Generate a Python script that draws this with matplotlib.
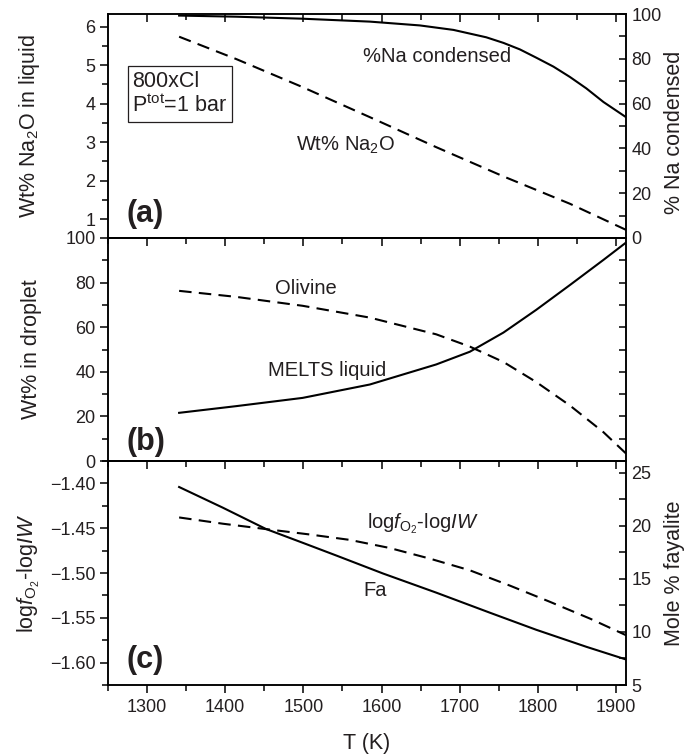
import matplotlib
matplotlib.use("Agg")
import matplotlib.pyplot as plt
from matplotlib.ticker import MultipleLocator, FuncFormatter

plt.rcParams["font.family"] = ["Liberation Sans", "DejaVu Sans"]
plt.rcParams["mathtext.fontset"] = "custom"
plt.rcParams["mathtext.rm"] = "Liberation Sans"
plt.rcParams["mathtext.it"] = "Liberation Sans:italic"
plt.rcParams["mathtext.bf"] = "Liberation Sans:bold"

TXT = "#231f20"

# (a) sodium
t_na = [1341, 1414, 1499, 1585, 1649, 1692, 1734, 1756, 1777, 1798, 1820, 1841,
        1862, 1884, 1913]
na_condensed = [99.3, 98.8, 97.9, 96.6, 94.9, 92.9, 89.6, 87.1, 84.2, 80.5, 76.5,
                71.9, 66.8, 60.7, 53.9]
t_na2o = [1341, 1414, 1499, 1585, 1670, 1756, 1841, 1913]
wt_na2o = [5.74, 5.16, 4.43, 3.65, 2.87, 2.11, 1.40, 0.72]

# (b) droplet composition
t_drop = [1341, 1414, 1499, 1585, 1670, 1713, 1756, 1798, 1841, 1884, 1913]
olivine = [76.3, 73.6, 69.6, 64.3, 56.8, 51.3, 44.4, 35.4, 24.9, 12.9, 3.3]
melts_liq = [21.6, 24.6, 28.3, 34.3, 43.3, 49.0, 57.6, 67.8, 78.9, 90.2, 98.0]

# (c) fO2 and fayalite
t_fa = [1341, 1397, 1452, 1499, 1542, 1602, 1670, 1739, 1798, 1862, 1913]
fayalite = [23.65, 21.7, 19.7, 18.4, 17.2, 15.5, 13.7, 11.8, 10.2, 8.6, 7.4]
t_fo2 = [1341, 1397, 1452, 1508, 1559, 1610, 1662, 1713, 1764, 1815, 1867, 1913]
dlog_fo2 = [-1.438, -1.445, -1.451, -1.457, -1.463, -1.472, -1.484, -1.497,
            -1.514, -1.532, -1.551, -1.5695]

XMIN, XMAX = 1250, 1912.8
LW = 1.5
DASH = (0, (6, 3.5))
TICK_FS = 13
ANN_FS = 14.5
LAB_FS = 15.5

fig = plt.figure(figsize=(6.86, 7.56), dpi=100)
left, width = 108 / 686, 518 / 686
ax_a = fig.add_axes([left, 1 - 238 / 756, width, 224 / 756])
ax_b = fig.add_axes([left, 1 - 461 / 756, width, 223 / 756])
ax_c = fig.add_axes([left, 1 - 685 / 756, width, 224 / 756])


def style_left(ax, major, minor):
    ax.set_xlim(XMIN, XMAX)
    ax.xaxis.set_major_locator(MultipleLocator(100))
    ax.xaxis.set_minor_locator(MultipleLocator(50))
    ax.yaxis.set_major_locator(MultipleLocator(major))
    ax.yaxis.set_minor_locator(MultipleLocator(minor))
    ax.tick_params(axis="x", which="both", top=True, bottom=False, direction="in",
                   labelbottom=False)
    ax.tick_params(axis="y", which="both", left=True, right=False, direction="out",
                   labelsize=TICK_FS, labelcolor=TXT, pad=3)
    ax.tick_params(which="major", length=6, width=1.1)
    ax.tick_params(which="minor", length=4, width=1.1)
    for sp in ax.spines.values():
        sp.set_linewidth(1.1)


def style_right(ax, step, minor=None, labels=True):
    ax.yaxis.set_major_locator(MultipleLocator(step))
    if minor:
        ax.yaxis.set_minor_locator(MultipleLocator(minor))
    ax.tick_params(axis="y", which="both", right=True, direction="in", length=5,
                   width=1.1, labelright=labels, labelsize=TICK_FS, labelcolor=TXT, pad=4)
    for sp in ax.spines.values():
        sp.set_linewidth(1.1)


# panel (a)
style_left(ax_a, 1, 0.5)
ax_a.set_ylim(0.51, 6.33)
ax_a.plot(t_na2o, wt_na2o, color="black", lw=LW, linestyle=DASH)
ax_a.set_ylabel("Wt% Na$_2$O in liquid", fontsize=LAB_FS, color=TXT)
ax_a2 = ax_a.twinx()
ax_a2.set_ylim(0, 100)
style_right(ax_a2, 20, 10)
ax_a2.plot(t_na, na_condensed, color="black", lw=LW)
ax_a2.set_ylabel("% Na condensed", fontsize=LAB_FS, color=TXT)
ax_a2.yaxis.set_label_coords(1.073, 0.47)
ax_a.text(0.635, 0.8125, "%Na condensed", transform=ax_a.transAxes, ha="center",
          va="center", fontsize=ANN_FS, color=TXT)
ax_a.text(0.459, 0.415, "Wt% Na$_2$O", transform=ax_a.transAxes, ha="center",
          va="center", fontsize=ANN_FS, color=TXT)
ax_a.text(0.047, 0.643, "800xCl\nP$^{\\mathrm{tot}}$=1 bar", transform=ax_a.transAxes,
          ha="left", va="center", fontsize=LAB_FS, color=TXT, linespacing=1.1,
          bbox=dict(boxstyle="square,pad=0.22", facecolor="white", edgecolor=TXT, lw=0.9))
ax_a.text(0.035, 0.105, "(a)", transform=ax_a.transAxes, ha="left", va="center",
          fontsize=22, fontweight="bold", color=TXT)

# panel (b)
style_left(ax_b, 20, 10)
ax_b.set_ylim(0, 100)
ax_b.plot(t_drop, olivine, color="black", lw=LW, linestyle=DASH)
ax_b.plot(t_drop, melts_liq, color="black", lw=LW)
ax_b.set_ylabel("Wt% in droplet", fontsize=LAB_FS, color=TXT)
ax_b2 = ax_b.twinx()
ax_b2.set_ylim(0, 100)
style_right(ax_b2, 10, labels=False)
ax_b.text(0.382, 0.774, "Olivine", transform=ax_b.transAxes, ha="center",
          va="center", fontsize=ANN_FS, color=TXT)
ax_b.text(0.423, 0.404, "MELTS liquid", transform=ax_b.transAxes, ha="center",
          va="center", fontsize=ANN_FS, color=TXT)
ax_b.text(0.035, 0.085, "(b)", transform=ax_b.transAxes, ha="left", va="center",
          fontsize=22, fontweight="bold", color=TXT)

# panel (c)
style_left(ax_c, 0.05, 0.025)
ax_c.set_ylim(-1.625, -1.375)
ax_c.yaxis.set_major_formatter(FuncFormatter(lambda v, p: f"{v:.2f}".replace("-", "\u2212")))
ax_c.tick_params(axis="x", which="both", top=False, bottom=True, direction="out",
                 labelbottom=True, labelsize=TICK_FS, labelcolor=TXT, pad=4)
top = ax_c.secondary_xaxis("top")
top.xaxis.set_major_locator(MultipleLocator(100))
top.xaxis.set_minor_locator(MultipleLocator(50))
top.tick_params(which="both", direction="in", labeltop=False, width=1.1)
top.tick_params(which="major", length=6)
top.tick_params(which="minor", length=4)
top.spines["top"].set_linewidth(1.1)
ax_c.plot(t_fo2, dlog_fo2, color="black", lw=LW, linestyle=DASH)
ax_c.set_ylabel("log$f_{\\mathrm{O}_2}$-log$IW$", fontsize=LAB_FS, color=TXT)
ax_c.set_xlabel("T (K)", fontsize=LAB_FS, color=TXT, labelpad=12)
ax_c2 = ax_c.twinx()
ax_c2.set_ylim(5, 26.1)
style_right(ax_c2, 5, 2.5)
ax_c2.plot(t_fa, fayalite, color="black", lw=LW)
ax_c2.set_ylabel("Mole % fayalite", fontsize=LAB_FS, color=TXT)
ax_c2.yaxis.set_label_coords(1.073, 0.5)
ax_c.text(0.608, 0.719, "log$f_{\\mathrm{O}_2}$-log$IW$", transform=ax_c.transAxes,
          ha="center", va="center", fontsize=ANN_FS, color=TXT)
ax_c.text(0.516, 0.424, "Fa", transform=ax_c.transAxes, ha="center",
          va="center", fontsize=ANN_FS, color=TXT)
ax_c.text(0.035, 0.11, "(c)", transform=ax_c.transAxes, ha="left", va="center",
          fontsize=22, fontweight="bold", color=TXT)

for ax in (ax_a, ax_b, ax_c):
    ax.yaxis.set_label_coords(-0.127, 0.5)

fig.savefig("out.png", dpi=100)
